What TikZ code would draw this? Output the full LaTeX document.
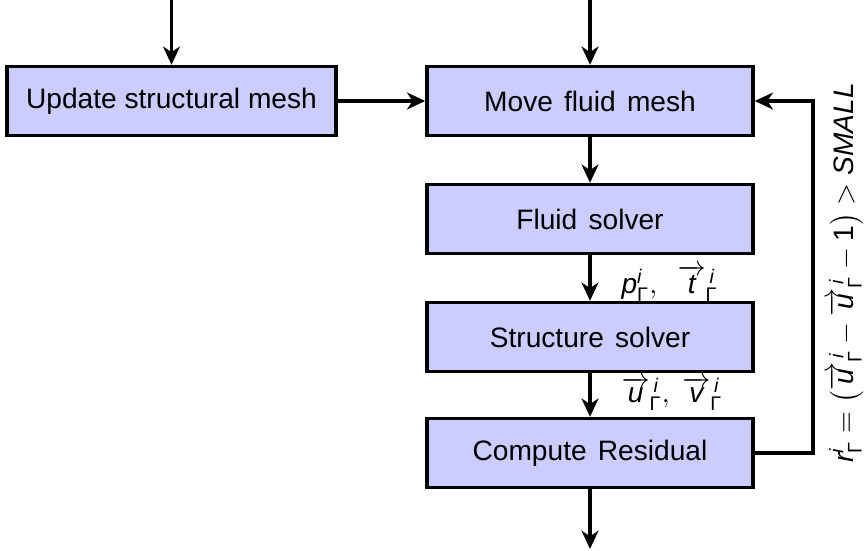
\documentclass[tikz,border=0pt]{standalone}
\usepackage{amsmath}
\usepackage{fontspec}
\setmainfont{Liberation Sans}
\usetikzlibrary{arrows.meta}
\newcommand{\si}[1]{\textit{#1}}
\newcommand{\Gm}{\text{Γ}}
\newcommand{\wsp}{\hspace{0.4em}}
\tikzset{
  blk/.style={draw=black, line width=1.2pt, fill=blue!20, minimum height=0.8625cm, inner sep=0pt, font=\normalsize},
  arr/.style={line width=1.2pt, -{Stealth[length=6.5pt,width=6pt,inset=2pt]}},
  lbl/.style={inner sep=0pt, anchor=west}
}
\begin{document}
\begin{tikzpicture}[x=0.0125cm,y=-0.0125cm]
\useasboundingbox (0,0) rectangle (866,550);
\node[blk, minimum width=4.1125cm] (upd) at (171.5,101) {Update structural mesh};
\node[blk, minimum width=4.075cm] (move) at (590,101) {Move\wsp fluid\wsp mesh};
\node[blk, minimum width=4.075cm] (fluid) at (590,219) {Fluid\wsp solver};
\node[blk, minimum width=4.075cm] (struct) at (590,337) {Structure\wsp solver};
\node[blk, minimum width=4.075cm] (res) at (590,453) {Compute\wsp Residual};
\coordinate (inU) at (171.5,0);
\coordinate (inM) at (590,0);
\coordinate (out) at (590,549);
\coordinate (fbB) at (813,453);
\coordinate (fbT) at (813,101);
\draw[arr] (inU) -- (upd.north);
\draw[arr] (inM) -- (move.north);
\draw[arr] (upd.east) -- (move.west);
\draw[arr] (move.south) -- (fluid.north);
\draw[arr] (fluid.south) -- (struct.north);
\draw[arr] (struct.south) -- (res.north);
\draw[arr] (res.south) -- (out);
\draw[arr] (res.east) -- (fbB) -- (fbT) -- (move.east);
\node[lbl] (lp) at (621,283) {$\si{p}^{\si{i}}_{\Gm},\ \ \overrightarrow{\si{t}}^{\,\si{i}}_{\Gm}$};
\node[lbl] (lu) at (621,394) {$\overrightarrow{\si{u}}^{\,\si{i}}_{\Gm},\ \overrightarrow{\si{v}}^{\,\si{i}}_{\Gm}$};
\node[rotate=90, inner sep=0pt] (cond) at (846,273) {$\si{r}^{\si{i}}_{\Gm} = \left(\overrightarrow{\si{u}}^{\,\si{i}}_{\Gm} - \overrightarrow{\si{u}}^{\,\si{i}}_{\Gm} - \text{1}\right) > \si{SMALL}$};
\end{tikzpicture}
\end{document}
